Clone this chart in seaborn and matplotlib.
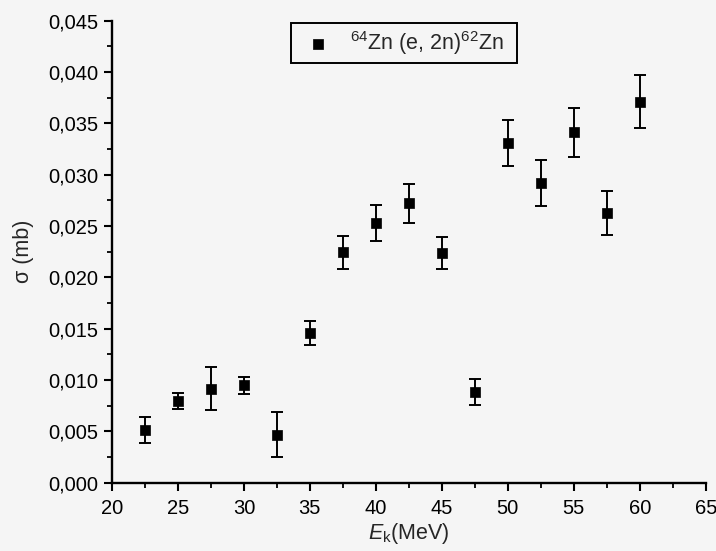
import numpy as np
import pandas as pd
import matplotlib
matplotlib.use("Agg")
import matplotlib.pyplot as plt
from matplotlib.ticker import MultipleLocator, FuncFormatter
import seaborn as sns

# Cross section of 64Zn(e,2n)62Zn versus electron energy
energy = [22.5, 25.0, 27.5, 30.0, 32.5, 35.0, 37.5, 40.0, 42.5, 45.0,
          47.5, 50.0, 52.5, 55.0, 57.5, 60.0]
sigma = [0.00513, 0.00796, 0.00916, 0.00948, 0.00468, 0.01458, 0.02244,
         0.02527, 0.02722, 0.02234, 0.00883, 0.03309, 0.02919, 0.03413,
         0.02624, 0.03711]
sigma_err = [0.00130, 0.00080, 0.00210, 0.00085, 0.00220, 0.00115, 0.00160,
             0.00176, 0.00190, 0.00155, 0.00125, 0.00225, 0.00222, 0.00236,
             0.00216, 0.00258]

df = pd.DataFrame({"E": energy, "sigma": sigma, "err": sigma_err})

sns.set_theme(style="ticks")
plt.rcParams["font.family"] = ["Liberation Sans", "DejaVu Sans"]
plt.rcParams["mathtext.fontset"] = "custom"
plt.rcParams["mathtext.rm"] = "Liberation Sans"
plt.rcParams["mathtext.it"] = "Liberation Sans:italic"

bg = "#f5f5f5"
fig = plt.figure(figsize=(7.16, 5.51), dpi=100, facecolor=bg)
ax = fig.add_axes([0.1564, 0.124, 0.8292, 0.8384])
ax.set_facecolor(bg)

ax.errorbar(df["E"], df["sigma"], yerr=df["err"], fmt="none",
            ecolor="black", elinewidth=1.4, capsize=4.0, capthick=1.4,
            zorder=2)
# trailing spaces leave extra room on the right inside the legend box
sns.scatterplot(data=df, x="E", y="sigma", marker="s", s=60,
                color="black", edgecolor="black", linewidth=0.5,
                label=r"$^{64}$Zn (e, 2n)$^{62}$Zn" + "  ", ax=ax, zorder=3)

ax.set_xlim(20, 65)
ax.set_ylim(0, 0.045)
ax.xaxis.set_major_locator(MultipleLocator(5))
ax.xaxis.set_minor_locator(MultipleLocator(2.5))
ax.yaxis.set_major_locator(MultipleLocator(0.005))
ax.yaxis.set_minor_locator(MultipleLocator(0.0025))
ax.yaxis.set_major_formatter(
    FuncFormatter(lambda v, p: f"{v:.3f}".replace(".", ",")))
ax.xaxis.set_major_formatter(FuncFormatter(lambda v, p: f"{v:.0f}"))

sns.despine(ax=ax)
for side in ("left", "bottom"):
    ax.spines[side].set_linewidth(1.7)
    ax.spines[side].set_color("black")
ax.tick_params(which="major", direction="out", length=6, width=1.5,
               labelsize=14.5, colors="black")
ax.tick_params(axis="x", which="major", pad=6)
ax.tick_params(axis="y", which="major", pad=4)
ax.tick_params(which="minor", direction="out", length=3.5, width=1.3,
               colors="black")

ax.set_xlabel(r"$\it{E}_{\rm k}$(MeV)", fontsize=15.5, labelpad=2)
ax.set_ylabel("σ (mb)", fontsize=15.5, labelpad=10)

leg = ax.legend(loc="upper left", bbox_to_anchor=(0.3013, 0.995),
                frameon=True, fancybox=False, fontsize=15.5,
                handletextpad=0.45, handlelength=2.0, borderpad=0.28,
                borderaxespad=0.0, markerscale=1.0)
leg.get_frame().set_edgecolor("black")
leg.get_frame().set_linewidth(1.4)
leg.get_frame().set_facecolor(bg)
leg.get_frame().set_alpha(1)

fig.savefig("out.png", dpi=100, facecolor=bg)
